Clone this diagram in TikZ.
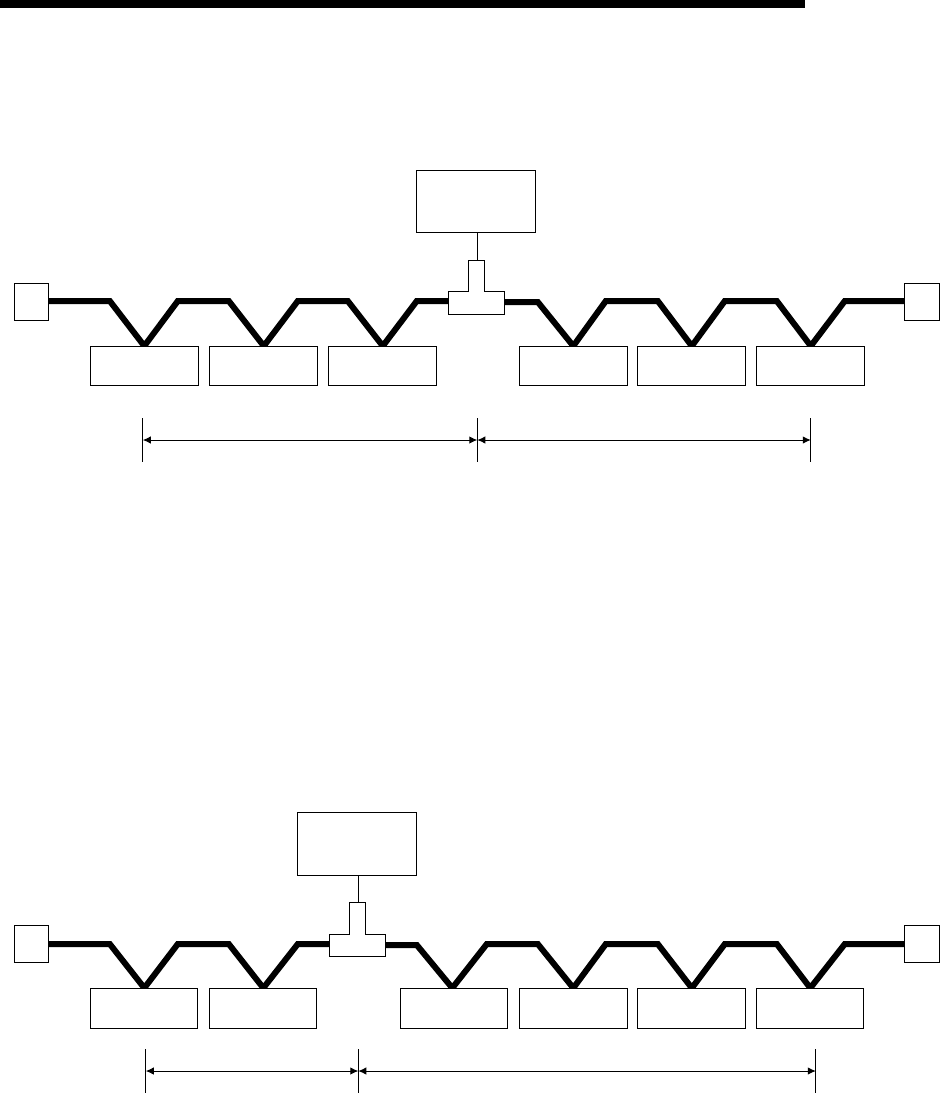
\documentclass[tikz,border=0pt]{standalone}
\usetikzlibrary{arrows.meta,backgrounds}
\tikzset{
  box/.style={draw=black,line width=1pt,fill=white,inner sep=0pt,outer sep=0pt,anchor=north west},
  bus/.style={line width=6pt,line join=miter,line cap=butt},
  thin line/.style={line width=1pt},
  dim/.style={line width=1pt,{Latex[length=8pt,width=7.5pt]}-{Latex[length=8pt,width=7.5pt]}},
  tee/.style={draw=black,line width=1pt,fill=white,line join=miter}
}
\begin{document}
\begin{tikzpicture}[x=1pt,y=-1pt]
\useasboundingbox (0,0) rectangle (941,1093);
\fill[black] (0,0) rectangle (805,8);
\begin{scope}[xshift=-0.2pt]
% ---------- upper diagram ----------
\node[box,minimum width=119pt,minimum height=62pt] (hostA) at (417,170) {};
\node[box,minimum width=34pt,minimum height=37pt] (tlA) at (15,283) {};
\node[box,minimum width=35pt,minimum height=37pt] (trA) at (905,283) {};
\node[box,minimum width=108pt,minimum height=39.5pt] (a1) at (90.5,346) {};
\node[box,minimum width=108pt,minimum height=39.5pt] (a2) at (210,346) {};
\node[box,minimum width=108pt,minimum height=39.5pt] (a3) at (329,346) {};
\node[box,minimum width=108pt,minimum height=39.5pt] (a4) at (519.5,346) {};
\node[box,minimum width=108pt,minimum height=39.5pt] (a5) at (638,346) {};
\node[box,minimum width=108pt,minimum height=39.5pt] (a6) at (757,346) {};
\coordinate (teeAL) at (449,301);
\coordinate (teeAR) at (505,302);
\coordinate (teeAT) at (477.5,260);
\begin{scope}[on background layer]
\draw[bus] (tlA.east |- teeAL) -- (110,301) -- (a1.north) -- (178,301) -- (229,301) -- (a2.north) -- (298,301) -- (348,301) -- (a3.north) -- (417,301) -- (teeAL);
\draw[bus] (teeAR) -- (538,302) -- (a4.north) -- (606,301) -- (658,301) -- (a5.north) -- (725,301) -- (777,301) -- (a6.north) -- (845,301) -- (trA.west |- teeAL);
\end{scope}
\draw[thin line] (hostA.south -| teeAT) -- (teeAT);
\draw[tee] (449,291) -- (469,291) -- (469,260) -- (485,260) -- (485,291) -- (505,291) -- (505,314) -- (449,314) -- cycle;
\coordinate (ma1t) at (143,418); \coordinate (ma1b) at (143,462);
\coordinate (ma2t) at (477.5,418); \coordinate (ma2b) at (477.5,462);
\coordinate (ma3t) at (811,418); \coordinate (ma3b) at (811,462);
\draw[thin line] (ma1t) -- (ma1b);
\draw[thin line] (ma2t) -- (ma2b);
\draw[thin line] (ma3t) -- (ma3b);
\draw[dim] (143,440) -- (477.5,440);
\draw[dim] (477.5,440) -- (811,440);
% ---------- lower diagram ----------
\node[box,minimum width=119pt,minimum height=63pt] (hostB) at (298,812) {};
\node[box,minimum width=34pt,minimum height=37pt] (tlB) at (15,925) {};
\node[box,minimum width=35pt,minimum height=37pt] (trB) at (905,925) {};
\node[box,minimum width=107pt,minimum height=40pt] (b1) at (91,988) {};
\node[box,minimum width=107pt,minimum height=40pt] (b2) at (210,988) {};
\node[box,minimum width=107pt,minimum height=40pt] (b3) at (401,988) {};
\node[box,minimum width=108pt,minimum height=40pt] (b4) at (519.5,988) {};
\node[box,minimum width=108pt,minimum height=40pt] (b5) at (638,988) {};
\node[box,minimum width=107pt,minimum height=40pt] (b6) at (757,988) {};
\coordinate (teeBL) at (330,944);
\coordinate (teeBR) at (386,945);
\coordinate (teeBT) at (358.5,902);
\begin{scope}[on background layer]
\draw[bus] (tlB.east |- teeBL) -- (110,944) -- (b1.north) -- (178,944) -- (229,944) -- (b2.north) -- (298,944) -- (teeBL);
\draw[bus] (teeBR) -- (417,945) -- ([xshift=-2pt]b3.north) -- (487,944) -- (538,944) -- (b4.north) -- (606,944) -- (658,944) -- (b5.north) -- (725,944) -- (777,944) -- (b6.north) -- (845,944) -- (trB.west |- teeBL);
\end{scope}
\draw[thin line] (hostB.south -| teeBT) -- (teeBT);
\draw[tee] (330,934) -- (350,934) -- (350,902) -- (366,902) -- (366,934) -- (386,934) -- (386,956) -- (330,956) -- cycle;
\coordinate (mb1t) at (146,1049); \coordinate (mb1b) at (146,1093);
\coordinate (mb2t) at (358.5,1049); \coordinate (mb2b) at (358.5,1093);
\coordinate (mb3t) at (816,1049); \coordinate (mb3b) at (816,1093);
\draw[thin line] (mb1t) -- (mb1b);
\draw[thin line] (mb2t) -- (mb2b);
\draw[thin line] (mb3t) -- (mb3b);
\draw[dim] (146,1071) -- (358.5,1071);
\draw[dim] (358.5,1071) -- (816,1071);
\end{scope}
\end{tikzpicture}
\end{document}
